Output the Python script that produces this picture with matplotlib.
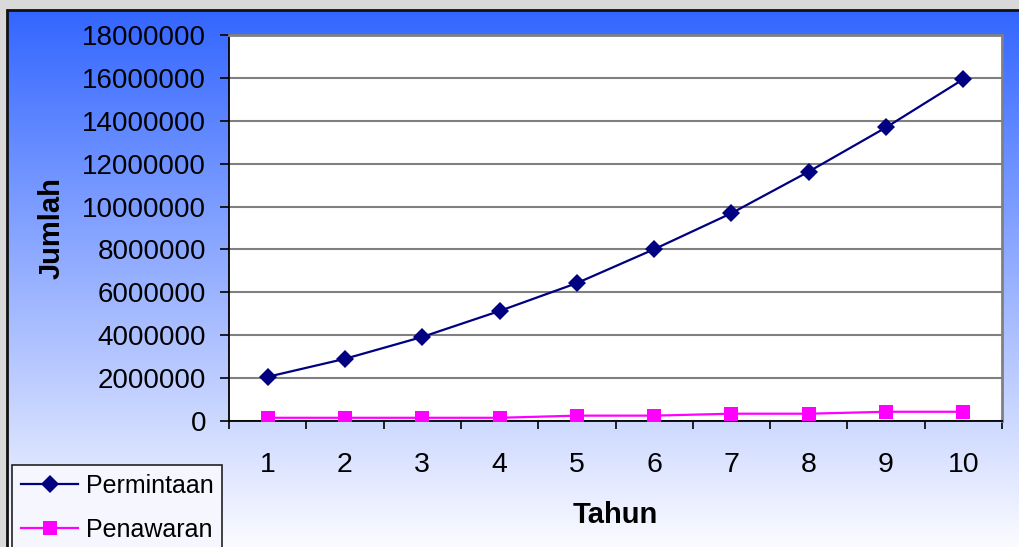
import numpy as np
import matplotlib
matplotlib.use("Agg")
import matplotlib.pyplot as plt
from matplotlib.patches import Rectangle

plt.rcParams['font.family'] = ['Liberation Sans', 'DejaVu Sans']

# Data
tahun = ['1', '2', '3', '4', '5', '6', '7', '8', '9', '10']
permintaan = [2060000, 2900000, 3920000, 5130000, 6430000,
              8010000, 9690000, 11630000, 13690000, 15940000]
penawaran = [150000, 150000, 150000, 150000, 250000,
             250000, 340000, 340000, 430000, 430000]
y_ticks = [0, 2000000, 4000000, 6000000, 8000000, 10000000,
           12000000, 14000000, 16000000, 18000000]

W, H = 1020, 547
fig = plt.figure(figsize=(W / 100, H / 100), dpi=100)
fig.patch.set_facecolor('#d9d9d9')

# Chart area background: vertical blue-to-white gradient with a dark border
x0, y0 = 7 / W, 0.0
x1, y1 = 1.0, 1 - 10 / H
bg = fig.add_axes([0, 0, 1, 1], zorder=0)
bg.set_xlim(0, 1)
bg.set_ylim(0, 1)
bg.axis('off')
top = np.array([0.20, 0.40, 1.00])
bottom = np.array([0.985, 0.985, 1.00])
t = np.linspace(0, 1, 256)[:, None]
grad = (top[None, :] * (1 - t) + bottom[None, :] * t)[:, None, :]
bg.imshow(grad, extent=[x0, x1, y0, y1], aspect='auto', origin='upper',
          interpolation='bilinear')
bg.add_patch(Rectangle((x0, y0 - 0.01), x1 - x0 + 0.01, y1 - y0 + 0.01,
                       fill=False, edgecolor='#111111', linewidth=2.0))

# Plot area
left, right, ptop, pbot = 229, 1002, 35, 421
ax = fig.add_axes([left / W, 1 - pbot / H, (right - left) / W, (pbot - ptop) / H],
                  zorder=2)
ax.set_facecolor('white')

xs = np.arange(len(tahun)) + 0.5
ax.plot(xs, penawaran, color='#ff00ff', linewidth=1.6, marker='s',
        markersize=10, markeredgewidth=0, label='Penawaran', zorder=3)
ax.plot(xs, permintaan, color='#000080', linewidth=1.6, marker='D',
        markersize=9, markeredgewidth=0, label='Permintaan', zorder=4)

ax.set_xlim(0, len(tahun))
ax.set_ylim(0, 18000000)

ax.set_yticks(y_ticks)
ax.set_yticklabels([str(v) for v in y_ticks], fontsize=20)
ax.yaxis.grid(True, color='#808080', linewidth=1.5)
ax.set_axisbelow(True)

ax.set_xticks(np.arange(len(tahun) + 1))
ax.set_xticklabels([''] * (len(tahun) + 1))
ax.set_xticks(xs, minor=True)
ax.set_xticklabels(tahun, minor=True, fontsize=20.5)
ax.tick_params(axis='x', which='major', direction='out', length=6, width=1.2,
               color='black')
ax.tick_params(axis='x', which='minor', length=0, pad=22)
ax.tick_params(axis='y', direction='out', length=6.5, width=1.2, pad=10,
               color='black')

for s in ('top', 'right'):
    ax.spines[s].set_color('#808080')
    ax.spines[s].set_linewidth(2)
for s in ('left', 'bottom'):
    ax.spines[s].set_color('black')
    ax.spines[s].set_linewidth(1.3)

ax.set_xlabel('Tahun', fontsize=21, fontweight='bold', labelpad=17)
ax.set_ylabel('Jumlah', fontsize=21, fontweight='bold', labelpad=12)

handles, labels = ax.get_legend_handles_labels()
leg = fig.legend(handles[::-1], labels[::-1], loc='upper left',
                 bbox_to_anchor=(12 / W, 1 - 465 / H), fontsize=18,
                 frameon=True, fancybox=False, framealpha=1,
                 facecolor='#f6f6ff', edgecolor='#222222',
                 handlelength=2.3, handletextpad=0.3, labelspacing=0.8,
                 borderpad=0.35, borderaxespad=0)
leg.get_frame().set_linewidth(1.2)
leg.set_zorder(5)

fig.savefig('out.png', dpi=100, facecolor=fig.get_facecolor())
